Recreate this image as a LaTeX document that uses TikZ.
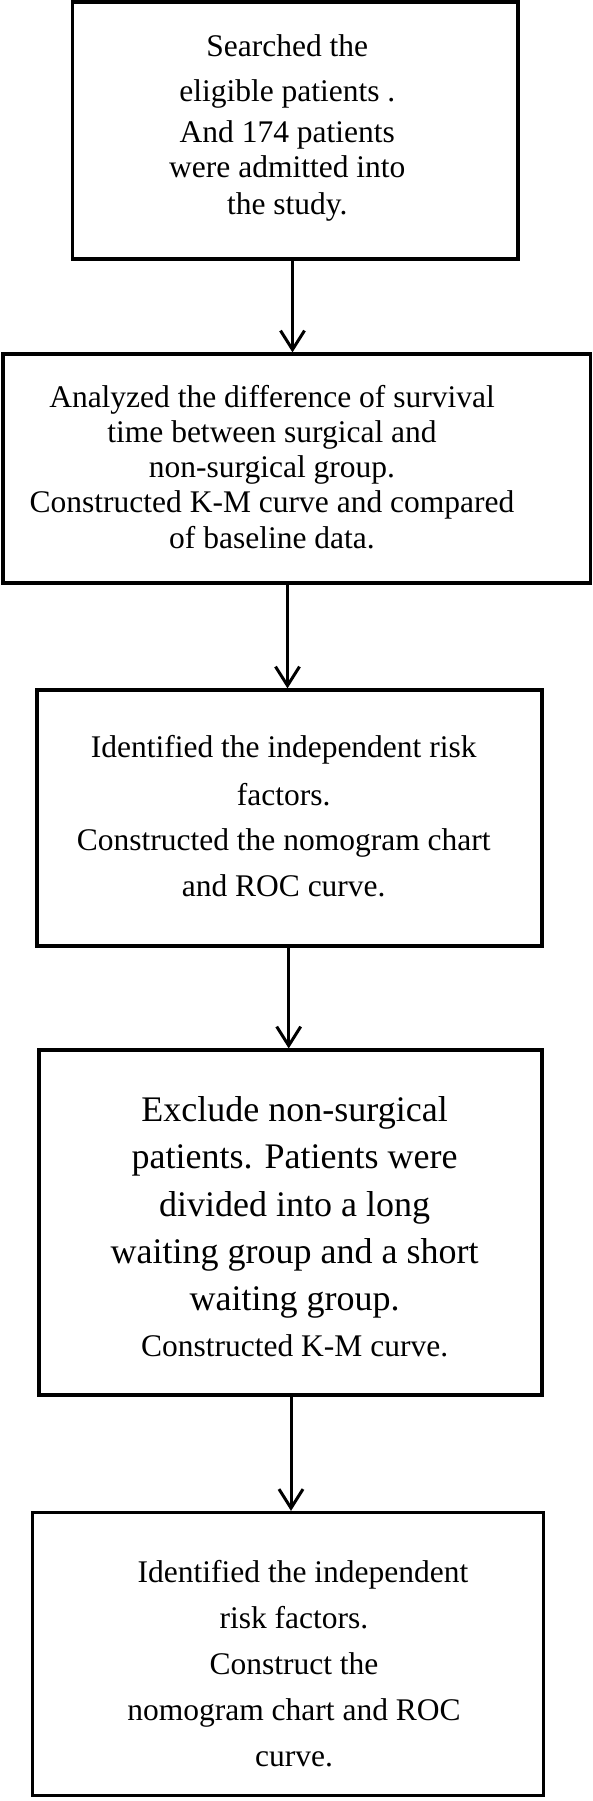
\documentclass[tikz,border=0pt]{standalone}
\usepackage{fontspec}
\setmainfont{Liberation Serif}
\usetikzlibrary{arrows.meta}
\tikzset{
  box/.style={draw, line width=3.2pt, rectangle, inner sep=0pt, anchor=center},
  txt/.style={align=center, inner sep=0pt, anchor=north, font=\fontsize{31.5}{36}\selectfont},
  arr/.style={line width=3pt, -{Straight Barb[length=19pt,width=24pt]}}
}
\newcommand{\topstrut}[1]{\rule{0pt}{#1}}
\begin{document}
\begin{tikzpicture}[x=1pt,y=-1pt]
\useasboundingbox (0,0) rectangle (592,1801);
% boxes
\node[box, minimum width=445.5pt, minimum height=257pt] (b1) at (295.25,130.5) {};
\node[box, minimum width=587.5pt, minimum height=229pt] (b2) at (296.75,468.5) {};
\node[box, minimum width=505pt, minimum height=256pt] (b3) at (289.5,818) {};
\node[box, minimum width=503pt, minimum height=345pt] (b4) at (290.5,1222.5) {};
\node[box, minimum width=511pt, minimum height=283pt] (b5) at (287.7,1654) {};
% texts
\node[txt] (t1) at (287.3,31) {\topstrut{25pt}Searched the\\[9pt] eligible patients .\\[5.6pt] And 174 patients\\[-1.6pt] were admitted into\\[1pt] the study.};
\node[txt, font=\fontsize{31.5}{35.3}\selectfont] (t2) at (272,381.8) {\topstrut{25pt}Analyzed the difference of survival\\ time between surgical and\\ non-surgical group.\\ Constructed K-M curve and compared\\ of baseline data.};
\node[txt, font=\fontsize{31.5}{46}\selectfont] (t3) at (283.7,732.7) {\topstrut{25pt}Identified the independent risk\\[2pt] factors.\\[-1.7pt] Constructed the nomogram chart\\ and ROC curve.};
\node[txt, font=\fontsize{36}{47.3}\selectfont] (t4) at (294.6,1093.4) {\topstrut{28pt}Exclude non-surgical\\ patients. Patients were\\ divided into a long\\ waiting group and a short\\ waiting group.\\[-1.8pt] {\fontsize{31.5}{36}\selectfont Constructed K-M curve.}};
\node[txt, font=\fontsize{31.5}{46}\selectfont] (t5) at (294,1557) {\topstrut{25pt}\hspace*{18pt}Identified the independent\\ risk factors.\\ Construct the\\ nomogram chart and ROC\\ curve.};
% arrow positions
\coordinate (a1) at (292.5,0);
\coordinate (a2) at (287.5,0);
\coordinate (a3) at (288.7,0);
\coordinate (a4) at (291,0);
\draw[arr] (b1.south -| a1) -- (b2.north -| a1);
\draw[arr] (b2.south -| a2) -- (b3.north -| a2);
\draw[arr] (b3.south -| a3) -- (b4.north -| a3);
\draw[arr] (b4.south -| a4) -- (b5.north -| a4);
\end{tikzpicture}
\end{document}
